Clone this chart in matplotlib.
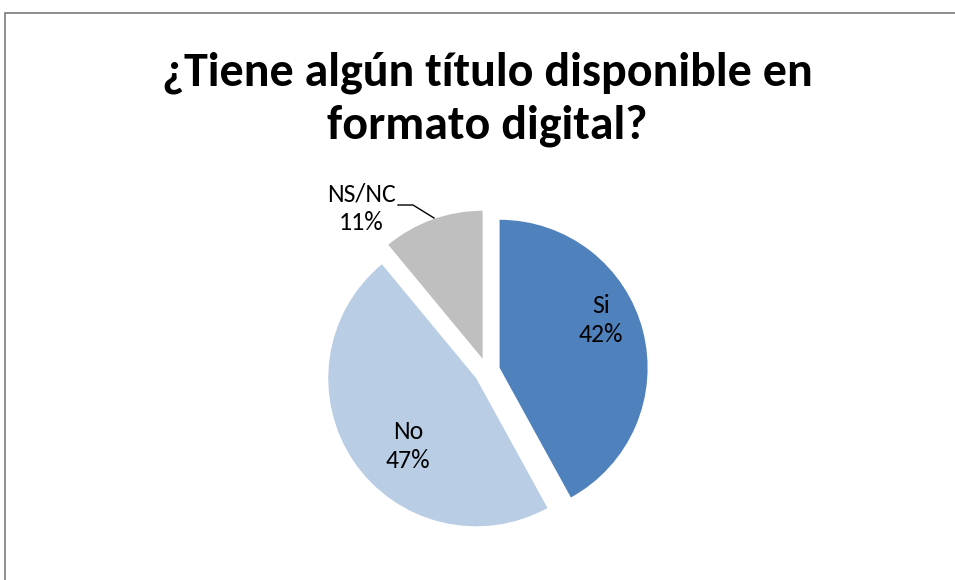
import matplotlib.pyplot as plt
from matplotlib.patches import Rectangle
from matplotlib import font_manager

# Datos
labels = ['Si', 'No', 'NS/NC']
values = [42, 47, 11]
colors = ['#4F81BD', '#B9CDE5', '#BFBFBF']
title = '¿Tiene algún título disponible en\nformato digital?'

names = {f.name for f in font_manager.fontManager.ttflist}
fam = [f for f in ['Carlito', 'Lato', 'DejaVu Sans'] if f in names]
plt.rcParams['font.family'] = fam

W, H = 955, 580
fig = plt.figure(figsize=(W / 100, H / 100), dpi=100)
ax = fig.add_axes([0, 0, 1, 1])

# marco del gráfico
ax.add_patch(Rectangle((4.5, -10), W, H - 12.5 + 10, fill=False,
                       edgecolor='#868686', linewidth=1.3))

# centro sin separar y radio en píxeles; explode va en unidades de datos
cx, cy, R = 487, H - 371, 148
ax.pie(values, colors=colors, startangle=90, counterclock=False,
       explode=[13] * 3, radius=R, center=(cx, cy), frame=True,
       wedgeprops=dict(linewidth=0))
ax.set_xlim(0, W)
ax.set_ylim(0, H)
ax.set_aspect('auto')
ax.axis('off')

fs = 18.5
ax.text(601, H - 320, f'{labels[0]}\n{values[0]}%', ha='center', va='center',
        fontsize=fs, linespacing=1.3)
ax.text(408, H - 446, f'{labels[1]}\n{values[1]}%', ha='center', va='center',
        fontsize=fs, linespacing=1.3)
ax.text(361, H - 208, f'{labels[2]}\n{values[2]}%', ha='center', va='center',
        fontsize=fs, linespacing=1.3)
# línea guía
ax.plot([398, 413, 434], [H - 205, H - 205, H - 218], color='black', lw=1)

ax.text(487, H - 99, title, ha='center', va='center', fontsize=34.5,
        fontweight='bold', linespacing=1.3)

fig.savefig('out.png', dpi=100)
